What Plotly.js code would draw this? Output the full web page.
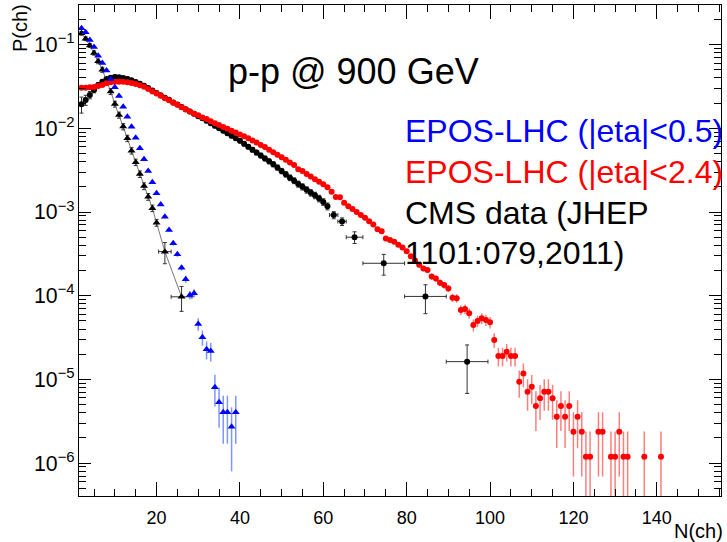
<!DOCTYPE html>
<html>
<head>
<meta charset="utf-8">
<script src="https://cdn.plot.ly/plotly-3.0.1.min.js"></script>
<style>html,body{margin:0;padding:0;background:#fff;}#chart{width:727px;height:542px;}</style>
</head>
<body>
<div id="chart"></div>
<script>
// ---------- data ----------
// EPOS-LHC |eta|<0.5 (blue triangles)
const blueN = [2,3,4,5,6,7,8,9,10,11,12,13,14,15,16,17,18,19,20,21,22,23,24,25,26,27,28,29,30,31,32,33,34,35,36,37,38,39];
const blueP = [0.1567,0.1403,0.1135,0.0933,0.0736,0.0603,0.0490,0.0389,0.0309,0.0243,0.01811,0.01377,0.01045,0.00773,0.00577,0.00426,0.00309,0.00226,0.00167,0.001225,0.000879,0.00061,0.000423,0.000312,0.000216,0.000157,0.000102,0.000107,4.59e-5,3.18e-5,2.29e-5,2.18e-5,8.05e-6,5.33e-6,4.05e-6,4.05e-6,2.72e-6,4.05e-6];
const BLUE_COUNT_UNIT = 1.36e-6;   // probability of a single event (Poisson errors)

// EPOS-LHC |eta|<2.4 (red circles)
const redN = [2,3,4,5,6,7,8,9,10,11,12,13,14,15,16,17,18,19,20,21,22,23,24,25,26,27,28,29,30,31,32,33,34,35,36,37,38,39,40,41,42,43,44,45,46,47,48,49,50,51,52,53,54,55,56,57,58,59,60,61,62,63,64,65,66,67,68,69,70,71,72,73,74,75,76,77,78,79,80,81,82,83,84,85,86,87,88,89,90,91,92,93,94,95,96,97,98,99,100,101,102,103,104,105,106,107,108,109,110,111,112,113,114,115,116,117,118,119,120,121,122,123,124,126,127,129,130,131,132,133,137,141];
const redP = [0.03055,0.03055,0.0309,0.03119,0.03199,0.03289,0.03451,0.03548,0.03606,0.03606,0.03606,0.03548,0.03475,0.03381,0.03266,0.03141,0.02951,0.02754,0.0260,0.02455,0.02291,0.02163,0.02018,0.01905,0.01778,0.01679,0.01585,0.01496,0.01429,0.01349,0.01288,0.01216,0.01148,0.01096,0.01035,0.009886,0.009333,0.008913,0.008414,0.008035,0.007586,0.007161,0.006761,0.00631,0.005957,0.005559,0.005188,0.004842,0.004519,0.004217,0.00389,0.003631,0.00325,0.00309,0.002851,0.002661,0.002455,0.002291,0.002138,0.001972,0.001740,0.001514,0.0015,0.001288,0.001175,0.001084,0.001,0.000923,0.000851,0.000776,0.000708,0.000624,0.000589,0.000484,0.000462,0.000442,0.000407,0.000376,0.000339,0.000295,0.000263,0.000234,0.000212,0.000203,0.000169,0.000161,0.000143,0.000134,0.000122,9.46e-5,9.31e-5,6.75e-5,6.93e-5,6.17e-5,4.47e-5,4.99e-5,5.37e-5,5.13e-5,4.81e-5,2.96e-5,1.905e-5,1.905e-5,2.14e-5,1.905e-5,1.905e-5,9.4e-6,1.18e-5,7.13e-6,8.18e-6,4.81e-6,5.94e-6,7.13e-6,7.13e-6,5.94e-6,3.58e-6,4.81e-6,3.58e-6,4.81e-6,2.37e-6,3.58e-6,2.37e-6,1.19e-6,1.19e-6,2.37e-6,2.37e-6,1.19e-6,1.19e-6,2.37e-6,1.19e-6,1.19e-6,1.19e-6,1.19e-6];
const RED_COUNT_UNIT = 1.19e-6;

// CMS data |eta|<0.5 (black, steep)
const cmsNarrowN    = [2,3,4,5,6,7,8,9,10,11,12,13,14,15,16,17,18,19,20,22,26];
const cmsNarrowP    = [0.1365,0.1175,0.0977,0.0794,0.0631,0.0501,0.0380,0.0275,0.0195,0.01442,0.01047,0.00759,0.0054,0.00393,0.00284,0.00204,0.00152,0.00111,0.000745,3.36e-4,9.7e-5];
const cmsNarrowErrY = [0.007,0.006,0.005,0.0045,0.004,0.0035,0.0028,0.0022,0.0016,0.0012,0.0009,0.00066,0.00048,0.00035,0.00026,0.00019,0.00014,0.0001,0.00007,9.5e-5,3.2e-5];
const cmsNarrowErrX = [0,0,0,0,0,0,0,0,0,0,0,0,0,0,0,0,0,0,0,1.5,2.5];

// CMS data |eta|<2.4 (black, broad)
const cmsWideN    = [2,3,4,5,6,7,8,9,10,11,12,13,14,15,16,17,18,19,20,21,22,23,24,25,26,27,28,29,30,31,32,33,34,35,36,37,38,39,40,41,42,43,44,45,46,47,48,49,50,51,52,53,54,55,56,57,58,59,60,61,62.5,64.5,67.5,74.5,84.5,94.5];
const cmsWideP    = [0.0194,0.0218,0.025,0.0287,0.0329,0.0361,0.0388,0.0403,0.041,0.0407,0.0398,0.0389,0.0374,0.0357,0.0341,0.0323,0.0302,0.0282,0.0264,0.0248,0.0232,0.0219,0.0204,0.0193,0.018,0.0169,0.01585,0.0149,0.01396,0.01318,0.0123,0.01148,0.01072,0.0100,0.00933,0.00871,0.00813,0.00759,0.00708,0.00653,0.00603,0.00556,0.00513,0.00473,0.00437,0.00403,0.00372,0.00339,0.00309,0.00282,0.00257,0.00237,0.00216,0.0020,0.00184,0.0017,0.00158,0.00145,0.00132,0.00117,9.2e-4,7.7e-4,5.0e-4,2.44e-4,9.8e-5,1.63e-5];
const cmsWideErrY = [0.0042,0.003,0.0025,0.0022,0.0021,0.002,0.002,0.002,0.002,0.002,0.0019,0.0019,0.0018,0.0017,0.0016,0.0015,0.0014,0.0013,0.0012,0.0011,0.0011,0.001,0.001,0.0009,0.0009,0.0008,0.0008,0.0007,0.0007,0.0007,0.0006,0.0006,0.0006,0.0005,0.0005,0.0005,0.00045,0.00042,0.0004,0.0004,0.00037,0.00035,0.00033,0.00031,0.00029,0.00027,0.00026,0.00024,0.00023,0.00021,0.0002,0.00019,0.00018,0.00017,0.00016,0.00015,0.00014,0.00013,0.00012,0.00011,9e-5,8e-5,8e-5,6.8e-5,3.7e-5,9.5e-6];
const cmsWideErrX = [0,0,0,0,0,0,0,0,0,0,0,0,0,0,0,0,0,0,0,0,0,0,0,0,0,0,0,0,0,0,0,0,0,0,0,0,0,0,0,0,0,0,0,0,0,0,0,0,0,0,0,0,0,0,0,0,0,0,0,0,1,1,2,5,5,5];

// text
const plotTitle = "p-p @ 900 GeV";
const legendLines = ["EPOS-LHC (|eta|<0.5)", "EPOS-LHC (|eta|<2.4)", "CMS data (JHEP", "1101:079,2011)"];
const xTitle = "N(ch)";
const yTitle = "P(ch)";

// ---------- chart ----------
const FONT = "Liberation Sans, Arial, Helvetica, sans-serif";
const poisson = (vals, unit) => vals.map(v => Math.sqrt(v * unit));
const poissonMinus = (vals, unit) => vals.map(v => Math.min(Math.sqrt(v * unit), v * 0.9999));

const traces = [
  {
    x: cmsWideN, y: cmsWideP, type: 'scatter', mode: 'markers', name: 'CMS |eta|<2.4',
    marker: {symbol: 'circle', size: 6, color: '#000'},
    error_y: {type: 'data', array: cmsWideErrY, color: '#333', thickness: 1, width: 2},
    error_x: {type: 'data', array: cmsWideErrX, color: '#333', thickness: 1, width: 2}
  },
  {
    x: cmsNarrowN, y: cmsNarrowP, type: 'scatter', mode: 'lines+markers', name: 'CMS |eta|<0.5',
    line: {color: '#555', width: 0.8},
    marker: {symbol: 'triangle-up', size: 7, color: '#000'},
    error_y: {type: 'data', array: cmsNarrowErrY, color: '#333', thickness: 1, width: 2},
    error_x: {type: 'data', array: cmsNarrowErrX, color: '#333', thickness: 1, width: 2}
  },
  {
    x: redN, y: redP, type: 'scatter', mode: 'markers', name: 'EPOS |eta|<2.4',
    marker: {symbol: 'circle', size: 6, color: '#ff0000'},
    error_y: {type: 'data', symmetric: false, array: poisson(redP, RED_COUNT_UNIT),
              arrayminus: poissonMinus(redP, RED_COUNT_UNIT), color: 'rgba(255,40,40,0.6)', thickness: 1.5, width: 0}
  },
  {
    x: blueN, y: blueP, type: 'scatter', mode: 'markers', name: 'EPOS |eta|<0.5',
    marker: {symbol: 'triangle-up', size: 7, color: '#0000ff'},
    error_y: {type: 'data', symmetric: false, array: poisson(blueP, BLUE_COUNT_UNIT),
              arrayminus: poissonMinus(blueP, BLUE_COUNT_UNIT), color: 'rgba(40,80,255,0.6)', thickness: 1.5, width: 0}
  }
];

// plot area in pixels: x 79..721, y 5..496
const px = v => (v - 79) / 642;
const py = v => (496 - v) / 491;

const layout = {
  width: 727, height: 542,
  margin: {l: 79, r: 6, t: 5, b: 46, pad: 0},
  paper_bgcolor: '#fff', plot_bgcolor: '#fff',
  showlegend: false,
  font: {family: FONT, color: '#000'},
  xaxis: {
    type: 'linear', range: [1.4, 155.4], autorange: false,
    tick0: 0, dtick: 20, ticks: 'inside', ticklen: 14, tickwidth: 1, tickcolor: '#000',
    ticklabelstandoff: 5,
    showline: true, linecolor: '#000', linewidth: 1, mirror: 'ticks',
    showgrid: false, zeroline: false,
    tickfont: {family: FONT, size: 18, color: '#000'},
    minor: {dtick: 5, tick0: 0, ticks: 'inside', ticklen: 7, tickcolor: '#000', tickwidth: 1, showgrid: false}
  },
  yaxis: {
    type: 'log', range: [-6.393, -0.527], autorange: false,
    dtick: 1, exponentformat: 'power', showexponent: 'all',
    ticks: 'inside', ticklen: 12, tickwidth: 1, tickcolor: '#000',
    showline: true, linecolor: '#000', linewidth: 1, mirror: 'ticks',
    showgrid: false, zeroline: false,
    tickfont: {family: FONT, size: 17, color: '#000'},
    minor: {dtick: 'D1', ticks: 'inside', ticklen: 7, tickcolor: '#000', tickwidth: 1, showgrid: false}
  },
  annotations: [
    {text: plotTitle, xref: 'paper', yref: 'paper', x: px(353), y: py(71), xanchor: 'center', yanchor: 'middle',
     showarrow: false, font: {family: FONT, size: 36, color: '#000'}},
    {text: legendLines[0], xref: 'paper', yref: 'paper', x: px(403), y: py(131), xanchor: 'left', yanchor: 'middle',
     showarrow: false, font: {family: FONT, size: 32, color: '#0000ff'}},
    {text: legendLines[1], xref: 'paper', yref: 'paper', x: px(403), y: py(172), xanchor: 'left', yanchor: 'middle',
     showarrow: false, font: {family: FONT, size: 32, color: '#ff0000'}},
    {text: legendLines[2], xref: 'paper', yref: 'paper', x: px(403), y: py(213), xanchor: 'left', yanchor: 'middle',
     showarrow: false, font: {family: FONT, size: 32, color: '#000'}},
    {text: legendLines[3], xref: 'paper', yref: 'paper', x: px(403), y: py(253), xanchor: 'left', yanchor: 'middle',
     showarrow: false, font: {family: FONT, size: 32, color: '#000'}},
    {text: xTitle, xref: 'paper', yref: 'paper', x: px(725), y: py(531), xanchor: 'right', yanchor: 'middle',
     showarrow: false, font: {family: FONT, size: 20, color: '#000'}},
    {text: yTitle, xref: 'paper', yref: 'paper', x: px(20), y: py(28), xanchor: 'center', yanchor: 'middle', textangle: -90,
     showarrow: false, font: {family: FONT, size: 20, color: '#000'}}
  ]
};

Plotly.newPlot('chart', traces, layout, {staticPlot: true, displayModeBar: false});
</script>
</body>
</html>
